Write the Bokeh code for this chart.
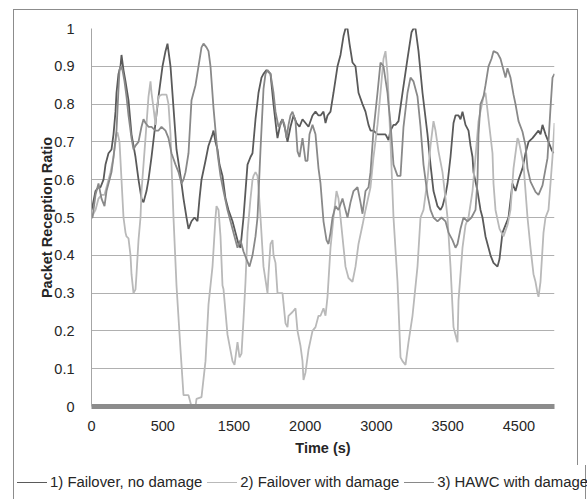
from bokeh.plotting import figure
from bokeh.layouts import column
from bokeh.models import (Range1d, FixedTicker, CustomJSTickFormatter,
                          NumeralTickFormatter, Div)
from bokeh.embed import file_html
from bokeh.resources import INLINE

# ---------------- data (x = sample index along the category axis) ----------------
X_TICK_LABELS = ["0", "500", "1500", "2000", "3000", "3500", "4500"]
N_SAMPLES = 463
LABEL_STEP = N_SAMPLES / 6.5

S1_NAME = "1) Failover, no damage"
S1_X = [0, 1, 4, 7, 9, 12, 14, 17, 20, 22, 24, 25, 27, 29, 30, 32, 34, 37, 40, 44, 47, 50, 52, 55, 57,
        60, 64, 67, 71, 74, 76, 79, 82, 85, 89, 92, 95, 97, 100, 103, 106, 108, 110, 114, 117, 121, 122,
        124, 126, 128, 131, 134, 137, 141, 144, 147, 149, 152, 156, 159, 161, 164, 167, 170, 172, 175,
        179, 182, 185, 186, 189, 191, 194, 196, 199, 202, 205, 208, 211, 214, 217, 221, 224, 227, 229,
        232, 234, 236, 239, 242, 246, 249, 252, 254, 256, 258, 261, 264, 267, 271, 274, 277, 279, 282,
        286, 289, 294, 297, 299, 302, 304, 307, 311, 316, 320, 322, 324, 327, 331, 336, 339, 342, 346,
        349, 351, 354, 356, 359, 362, 364, 367, 369, 371, 374, 377, 379, 381, 382, 386, 389, 391, 394,
        397, 399, 402, 406, 408, 411, 414, 417, 421, 424, 427, 431, 434, 437, 441, 444, 447, 449, 451,
        454, 457, 460, 462]
S1_Y = [0.52, 0.53, 0.57, 0.58, 0.58, 0.60, 0.64, 0.67, 0.68, 0.72, 0.78, 0.83, 0.88, 0.90, 0.93, 0.89,
        0.86, 0.81, 0.72, 0.66, 0.60, 0.55, 0.54, 0.57, 0.60, 0.66, 0.75, 0.82, 0.90, 0.94, 0.96, 0.90,
        0.79, 0.68, 0.61, 0.55, 0.50, 0.47, 0.49, 0.50, 0.49, 0.55, 0.60, 0.65, 0.69, 0.72, 0.73, 0.70,
        0.68, 0.64, 0.61, 0.55, 0.52, 0.49, 0.46, 0.43, 0.42, 0.50, 0.64, 0.66, 0.67, 0.76, 0.83, 0.87,
        0.88, 0.89, 0.88, 0.80, 0.73, 0.71, 0.75, 0.76, 0.73, 0.70, 0.74, 0.77, 0.75, 0.74, 0.76, 0.75,
        0.74, 0.77, 0.78, 0.77, 0.77, 0.78, 0.75, 0.77, 0.78, 0.83, 0.90, 0.93, 0.98, 1.00, 1.00, 0.96,
        0.91, 0.90, 0.83, 0.80, 0.78, 0.745, 0.73, 0.73, 0.72, 0.72, 0.72, 0.705, 0.73, 0.745, 0.745,
        0.755, 0.83, 0.92, 0.99, 1.00, 1.00, 0.94, 0.83, 0.72, 0.64, 0.57, 0.53, 0.52, 0.53, 0.56, 0.59,
        0.66, 0.75, 0.77, 0.77, 0.76, 0.78, 0.745, 0.73, 0.69, 0.66, 0.62, 0.57, 0.52, 0.50, 0.45, 0.42,
        0.40, 0.38, 0.37, 0.39, 0.46, 0.48, 0.50, 0.59, 0.57, 0.60, 0.63, 0.67, 0.70, 0.71, 0.72, 0.73,
        0.72, 0.745, 0.72, 0.70, 0.68, 0.67]

S2_NAME = "2) Failover with damage"
S2_X = [0, 4, 7, 10, 13, 16, 19, 22, 25, 26, 28, 30, 32, 34, 35, 37, 39, 40, 42, 44, 45, 47, 49, 50, 54,
        57, 59, 60, 62, 64, 65, 67, 70, 75, 77, 79, 80, 82, 85, 89, 92, 97, 100, 104, 105, 110, 114, 117,
        121, 124, 125, 127, 129, 131, 132, 136, 141, 143, 146, 148, 150, 152, 154, 156, 159, 161, 162,
        164, 166, 167, 169, 172, 176, 177, 179, 181, 182, 184, 186, 187, 191, 194, 196, 197, 201, 204,
        206, 209, 211, 212, 214, 217, 221, 224, 227, 229, 232, 234, 236, 239, 242, 245, 247, 249, 254,
        257, 261, 264, 267, 271, 274, 279, 282, 286, 289, 292, 294, 296, 299, 302, 306, 309, 311, 314,
        317, 321, 326, 329, 332, 336, 339, 342, 344, 347, 351, 354, 356, 359, 362, 364, 366, 367, 371,
        374, 377, 381, 384, 387, 392, 394, 397, 401, 402, 404, 408, 412, 416, 419, 422, 426, 427, 429,
        432, 434, 436, 439, 442, 444, 446, 447, 449, 452, 454, 457, 461, 463]
S2_Y = [0.50, 0.52, 0.55, 0.56, 0.56, 0.59, 0.62, 0.66, 0.72, 0.725, 0.70, 0.60, 0.50, 0.46, 0.45, 0.445,
        0.40, 0.35, 0.30, 0.31, 0.35, 0.44, 0.50, 0.57, 0.71, 0.82, 0.86, 0.83, 0.79, 0.745, 0.78, 0.82,
        0.825, 0.825, 0.80, 0.72, 0.64, 0.50, 0.32, 0.15, 0.03, 0.03, 0.00, 0.00, 0.02, 0.025, 0.12, 0.27,
        0.37, 0.50, 0.53, 0.52, 0.45, 0.32, 0.31, 0.19, 0.12, 0.11, 0.17, 0.13, 0.14, 0.23, 0.33, 0.46,
        0.55, 0.60, 0.61, 0.62, 0.61, 0.58, 0.50, 0.37, 0.30, 0.35, 0.43, 0.44, 0.40, 0.38, 0.30, 0.30,
        0.30, 0.22, 0.21, 0.24, 0.25, 0.26, 0.20, 0.16, 0.12, 0.07, 0.09, 0.15, 0.20, 0.21, 0.24, 0.24,
        0.26, 0.24, 0.29, 0.42, 0.50, 0.57, 0.55, 0.50, 0.37, 0.34, 0.33, 0.37, 0.43, 0.48, 0.52, 0.58,
        0.66, 0.745, 0.83, 0.92, 0.94, 0.88, 0.70, 0.50, 0.33, 0.13, 0.12, 0.11, 0.17, 0.24, 0.37, 0.50,
        0.52, 0.60, 0.69, 0.755, 0.73, 0.675, 0.62, 0.55, 0.50, 0.37, 0.21, 0.19, 0.17, 0.28, 0.42, 0.48,
        0.50, 0.57, 0.66, 0.755, 0.82, 0.83, 0.76, 0.67, 0.59, 0.52, 0.47, 0.45, 0.48, 0.52, 0.63, 0.71,
        0.705, 0.68, 0.64, 0.57, 0.50, 0.42, 0.35, 0.33, 0.30, 0.29, 0.33, 0.46, 0.50, 0.52, 0.66, 0.75]

S3_NAME = "3) HAWC with damage"
S3_X = [0, 1, 4, 7, 10, 13, 15, 18, 20, 22, 25, 27, 28, 29, 31, 33, 35, 37, 40, 42, 44, 47, 50, 52, 54,
        57, 60, 64, 67, 70, 74, 77, 80, 84, 87, 90, 92, 94, 97, 100, 104, 107, 110, 112, 115, 117, 119,
        122, 126, 129, 132, 136, 139, 143, 146, 149, 152, 155, 158, 161, 164, 166, 169, 172, 174, 176,
        179, 182, 184, 187, 189, 191, 193, 195, 197, 199, 201, 204, 206, 208, 211, 214, 216, 218, 221,
        224, 227, 229, 232, 235, 237, 239, 241, 244, 247, 251, 254, 256, 259, 262, 266, 269, 271, 274,
        277, 279, 282, 286, 289, 292, 296, 297, 299, 302, 306, 309, 312, 316, 319, 322, 326, 329, 332,
        336, 339, 342, 346, 350, 354, 357, 361, 364, 366, 369, 372, 376, 380, 384, 386, 387, 389, 392,
        394, 397, 400, 402, 406, 409, 412, 414, 416, 419, 422, 424, 427, 431, 434, 436, 439, 444, 447,
        451, 456, 459, 461, 463]
S3_Y = [0.50, 0.50, 0.56, 0.59, 0.55, 0.53, 0.57, 0.60, 0.62, 0.66, 0.73, 0.84, 0.89, 0.90, 0.89, 0.86,
        0.82, 0.77, 0.71, 0.68, 0.69, 0.70, 0.74, 0.76, 0.75, 0.74, 0.74, 0.73, 0.73, 0.74, 0.73, 0.71,
        0.67, 0.64, 0.62, 0.59, 0.60, 0.62, 0.67, 0.81, 0.85, 0.90, 0.95, 0.96, 0.95, 0.94, 0.90, 0.79,
        0.67, 0.61, 0.57, 0.52, 0.49, 0.45, 0.42, 0.44, 0.41, 0.39, 0.37, 0.40, 0.45, 0.50, 0.68, 0.84,
        0.88, 0.89, 0.88, 0.83, 0.78, 0.74, 0.745, 0.76, 0.745, 0.71, 0.745, 0.77, 0.78, 0.755, 0.675,
        0.66, 0.71, 0.65, 0.65, 0.72, 0.745, 0.72, 0.63, 0.59, 0.49, 0.44, 0.43, 0.46, 0.50, 0.53, 0.52,
        0.55, 0.52, 0.50, 0.54, 0.57, 0.58, 0.54, 0.51, 0.57, 0.58, 0.62, 0.73, 0.83, 0.91, 0.90, 0.83,
        0.80, 0.75, 0.64, 0.61, 0.61, 0.74, 0.83, 0.87, 0.86, 0.82, 0.74, 0.64, 0.56, 0.52, 0.50, 0.49,
        0.50, 0.49, 0.46, 0.44, 0.42, 0.43, 0.47, 0.50, 0.49, 0.50, 0.52, 0.60, 0.72, 0.80, 0.82, 0.85,
        0.90, 0.92, 0.94, 0.935, 0.92, 0.89, 0.87, 0.895, 0.87, 0.825, 0.80, 0.755, 0.727, 0.69, 0.63,
        0.595, 0.568, 0.56, 0.585, 0.657, 0.79, 0.87, 0.88]

Y_TICKS = [0, 0.1, 0.2, 0.3, 0.4, 0.5, 0.6, 0.7, 0.8, 0.9, 1.0]

# ---------------- style ----------------
FONT = "Liberation Sans"
FS = "14.5px"
FS_LEG = "14.9px"
TXT = "#262626"
COLORS = ["#5a5a5a", "#b9b9b9", "#898989"]
LW = 1.8
BORDER = "#8c8c8c"

W = 587
H_MAIN = 466
H_LEG = 33

p = figure(width=W, height=H_MAIN, output_backend="svg", toolbar_location=None,
           x_range=Range1d(0, N_SAMPLES), y_range=Range1d(0, 1),
           min_border_left=91, min_border_right=33, min_border_top=28, min_border_bottom=60)
p.outline_line_color = None
p.background_fill_color = "white"
p.border_fill_alpha = 0

for (xs, ys), c in zip([(S1_X, S1_Y), (S2_X, S2_Y), (S3_X, S3_Y)], COLORS):
    p.line(xs, ys, line_color=c, line_width=LW)

# axes
xa = p.xaxis[0]
xa.ticker = FixedTicker(ticks=[i * LABEL_STEP for i in range(len(X_TICK_LABELS))])
xa.formatter = CustomJSTickFormatter(args=dict(labels=X_TICK_LABELS), code="return labels[index];")
xa.axis_label = "Time (s)"
xa.axis_line_color = "#8c8c8c"
xa.axis_line_width = 5
xa.major_label_standoff = 8
xa.axis_label_standoff = 6

ya = p.yaxis[0]
ya.ticker = FixedTicker(ticks=Y_TICKS)
ya.formatter = NumeralTickFormatter(format="0.[0]")
ya.axis_label = "Packet Reception Ratio"
ya.axis_line_color = "#a6a6a6"
ya.axis_line_width = 1
ya.major_label_standoff = 11
ya.axis_label_standoff = -4

for ax in (xa, ya):
    ax.major_tick_line_color = None
    ax.minor_tick_line_color = None
    ax.major_label_text_font = FONT
    ax.major_label_text_font_size = FS
    ax.major_label_text_color = TXT
    ax.axis_label_text_font = FONT
    ax.axis_label_text_font_size = FS
    ax.axis_label_text_font_style = "bold"
    ax.axis_label_text_color = TXT

p.xgrid.visible = False
p.ygrid.grid_line_color = "#b0b0b0"
p.ygrid.grid_line_width = 1

# legend strip below the chart, as HTML text
key = ('<span style="display:inline-block;width:30px;height:0;border-top:%spx solid %s;'
       'margin-right:3px;vertical-align:middle"></span>')
parts = []
for i, (name, c) in enumerate(zip([S1_NAME, S2_NAME, S3_NAME], COLORS)):
    gap = '' if i == 0 else '<span style="display:inline-block;width:5px"></span>'
    parts.append(gap + (key % (LW, c)) +
                 '<span style="vertical-align:middle">%s</span>' % name)
legend_html = ('<div style="position:relative;width:%dpx;height:%dpx;">'
               '<div style="position:absolute;left:17px;top:7px;white-space:nowrap;'
               'font-family:\'%s\';font-size:%s;color:%s;line-height:17px;">%s</div></div>'
               % (W, H_LEG, FONT, FS_LEG, TXT, "".join(parts)))
leg = Div(text=legend_html, width=W, height=H_LEG, margin=0)

grad = "linear-gradient(%s,%s)" % (BORDER, BORDER)
page = column(p, leg, spacing=0, styles={
    "background-color": "white",
    "background-image": ",".join([grad] * 4),
    "background-size": "1px 600px, 565px 1px, 1px 456px, 1px 40px",
    "background-position": "13px 9px, 13px 9px, 577px 9px, 585px 465px",
    "background-repeat": "no-repeat",
})

open("out.html", "w").write(file_html(page, INLINE))
